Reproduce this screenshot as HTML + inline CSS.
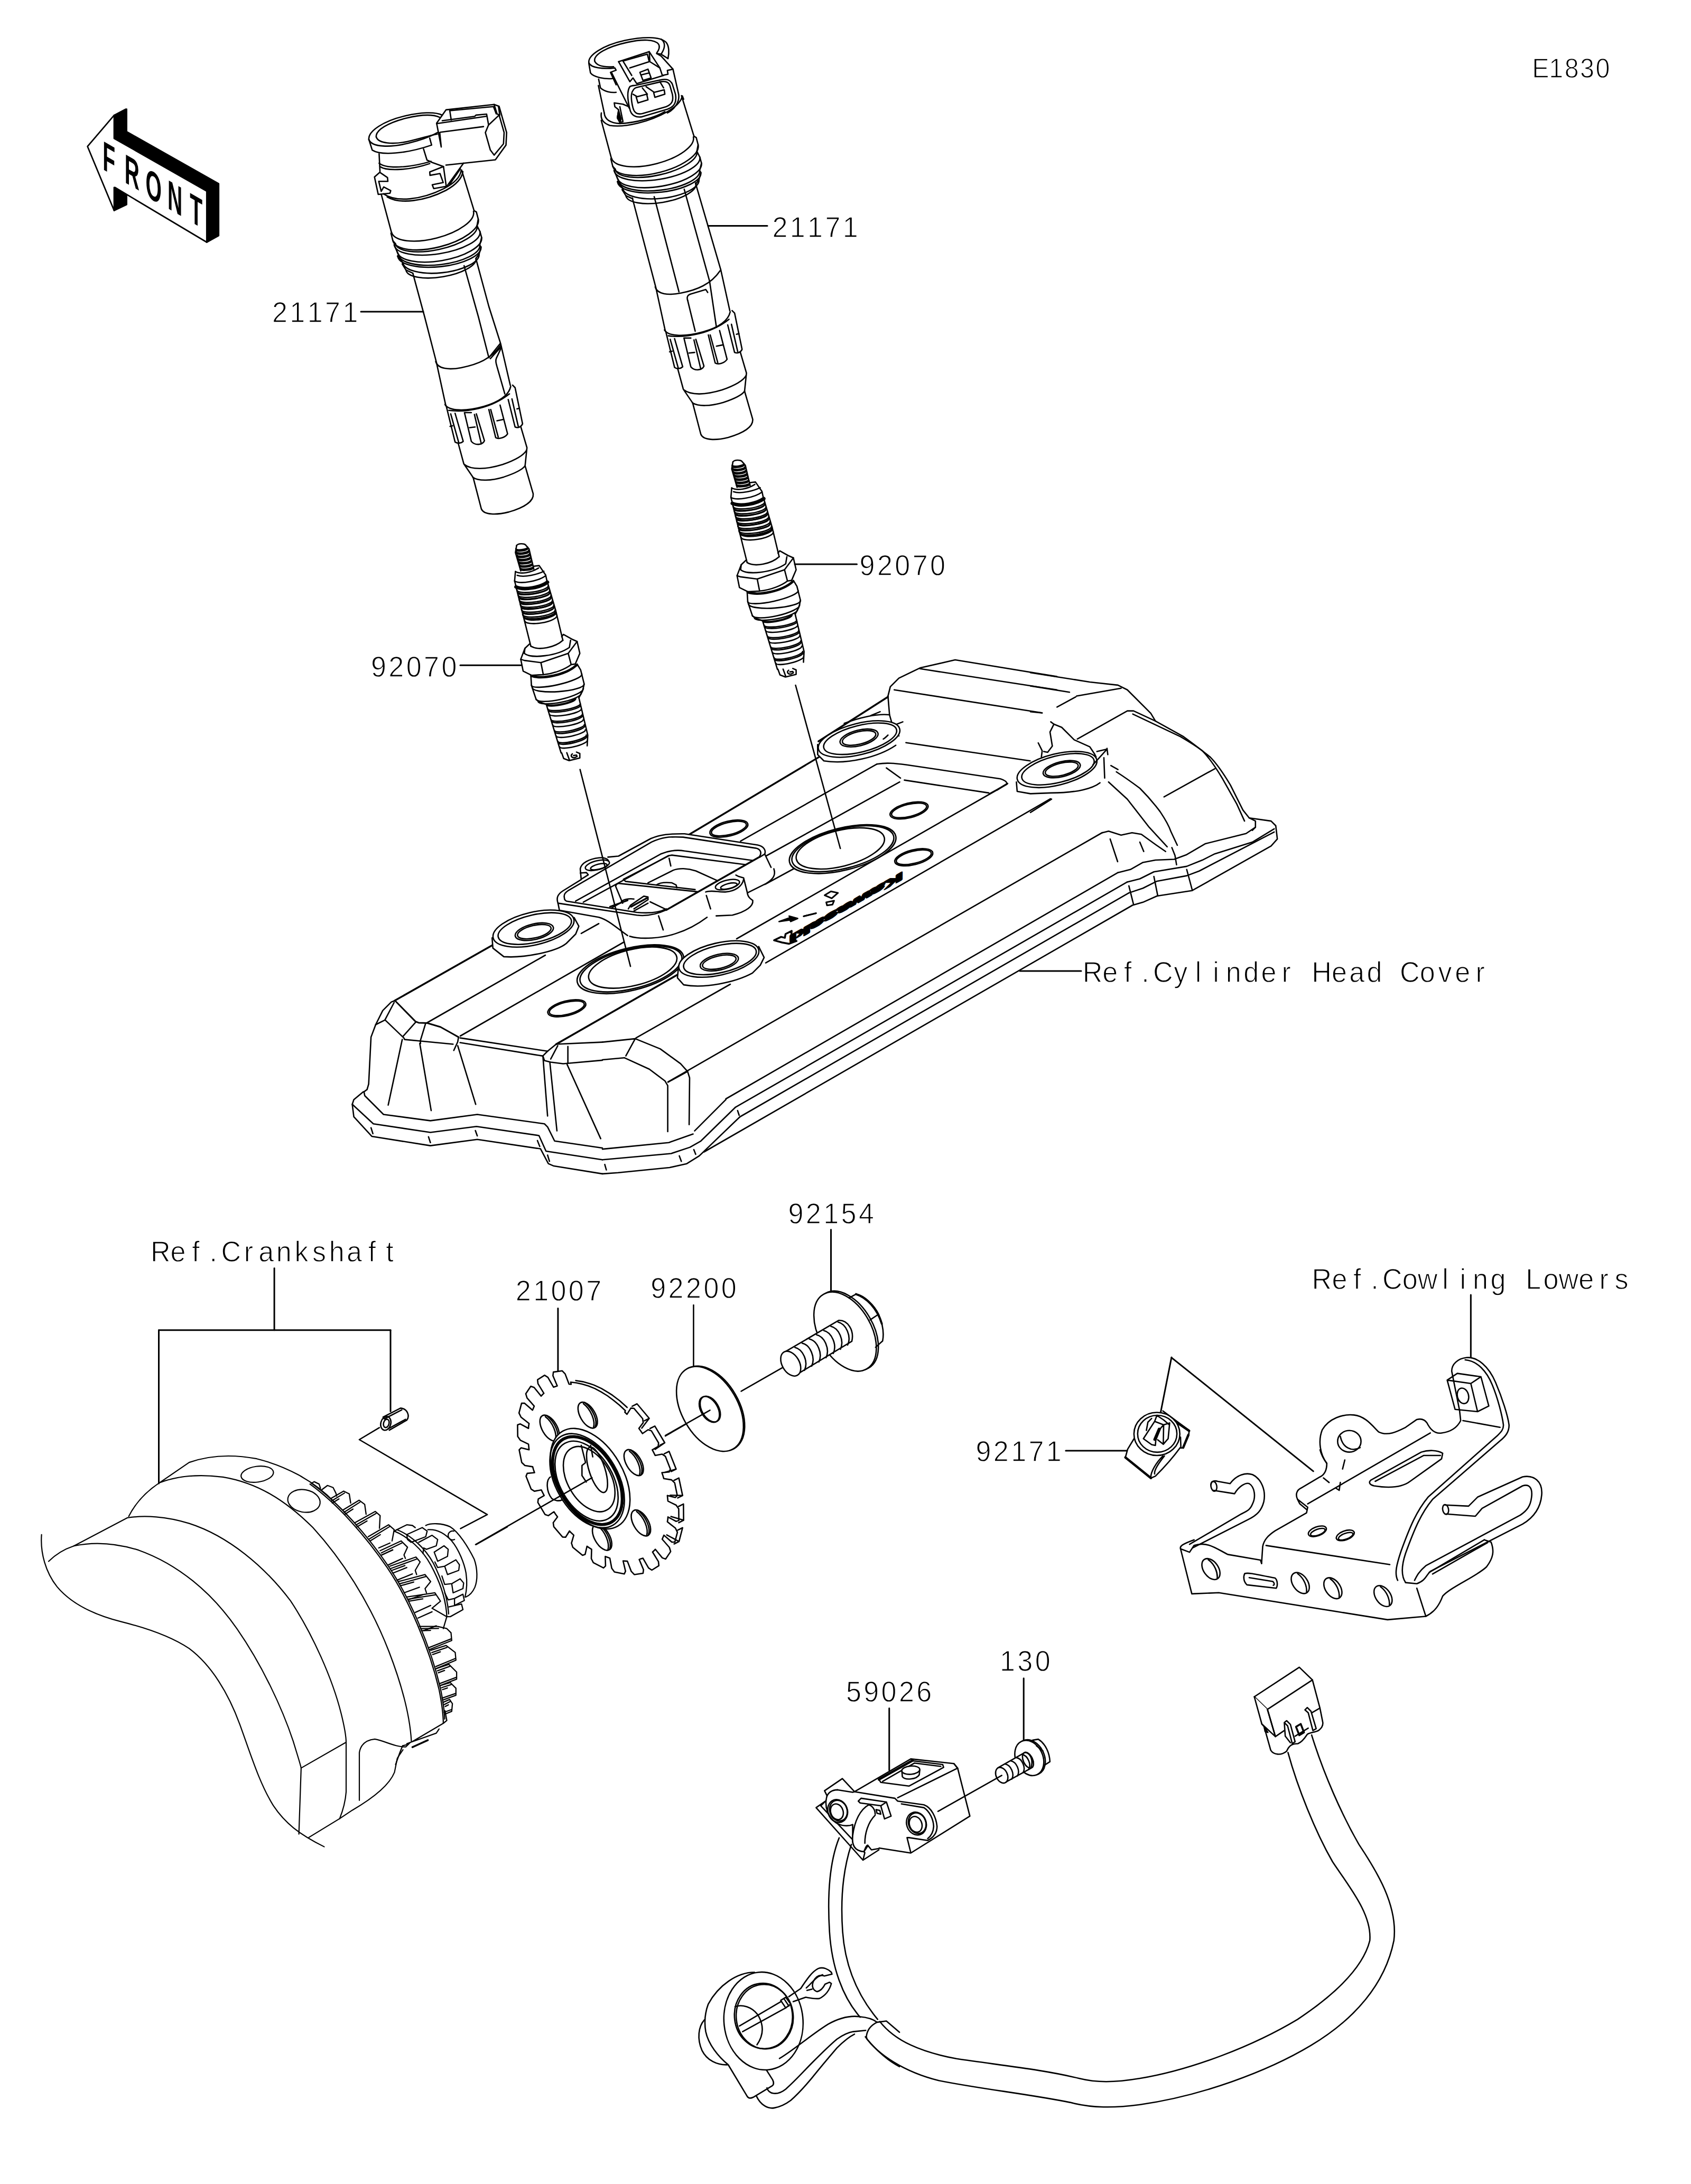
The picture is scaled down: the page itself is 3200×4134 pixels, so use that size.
<!DOCTYPE html>
<html><head><meta charset="utf-8"><title>E1830</title>
<style>
html,body{margin:0;padding:0;background:#fff}
svg{display:block}
text{font-family:"Liberation Sans",sans-serif;fill:#000;stroke:#fff;stroke-width:1.3;paint-order:fill stroke}
</style></head><body>
<svg width="3200" height="4134" viewBox="0 0 3200 4134" fill="none" stroke="#000" stroke-width="2.6" stroke-linecap="round" stroke-linejoin="round">
<rect x="0" y="0" width="3200" height="4134" fill="#fff" stroke="none"/>
<g transform="translate(150,180) scale(0.17740)" stroke-width="15.22" ><path d="M372,215 L495,150 L505,150 L505,390 L1487,945 L1487,1500 L1360,1570 L1360,1025 L372,462 Z" fill="#000"/><path d="M372,985 L505,1060 L505,1168 L372,1232 Z" fill="#000"/><path d="M88,548 L372,215 L372,462 L1360,1025 L1360,1570 L380,985 L372,985 L372,1232 Z" fill="#fff"/><text transform="matrix(1,0.575,0,1,0,0) scale(0.5,1)" x="500 966 1416 1884 2360" y="647 652 670 665 668" font-size="440" font-weight="bold" style="stroke:none">FRONT</text></g>
<g transform="translate(650,180) scale(0.23655)" stroke-width="10.99" ><path d="M303,797 L385,1103"/><path d="M945,600 L1045,925"/><path d="M385,1100A338.4,135.3 -14.5 0 0 1040,930"/><path d="M380,1105 L395,1165 L415,1188 L405,1198 L430,1255 L442,1278 L432,1288 L475,1340 L470,1352 L500,1400 L555,1425"/><path d="M1045,925 L1063,935 L1078,992 L1068,1045 L1092,1092 L1105,1140 L1090,1200 L1100,1215 L1085,1272 L1060,1305"/><path d="M395,1165A352.3,140.9 -14.2 0 0 1078,992"/><path d="M415,1188A334.2,120.3 -12.4 0 0 1068,1045"/><path d="M407,1200A346.7,124.8 -9.0 0 0 1092,1092"/><path d="M430,1255A342.4,130.1 -9.7 0 0 1105,1140"/><path d="M442,1278A326.3,117.5 -6.9 0 0 1090,1200"/><path d="M434,1290A335.1,120.6 -6.4 0 0 1100,1215"/><path d="M475,1340A306.9,116.6 -6.4 0 0 1085,1272"/><path d="M500,1400A284.0,102.2 -9.6 0 0 1060,1305"/><path d="M320,790 C420,860 620,840 800,750 C890,705 935,655 942,600"/><path d="M350,815 C450,875 650,850 820,762 C905,715 948,665 955,612"/><path d="M203,355 C195,290 320,205 500,165 C610,140 730,130 790,160"/><path d="M203,355 C225,420 380,420 520,385 C620,360 700,330 752,300"/><path d="M262,335 C255,280 360,220 500,185 C610,158 710,150 770,178"/><path d="M262,335 C280,390 400,395 510,372 C610,350 700,320 750,312"/><path d="M203,355 L230,440 C300,485 500,470 705,400 L690,345"/><path d="M285,470 L292,612"/><path d="M640,430 L668,520 L712,540 L800,572"/><path d="M285,545 C340,590 520,585 700,530"/><path d="M292,572 C350,612 540,600 690,548"/><path d="M290,618 L248,655 L278,795 L372,785 L378,765 L322,735 L302,770 L282,690 L355,690 L352,660 Z"/><path d="M800,572 L690,615 L692,642 L772,628 L798,700 L710,718 L722,748 L822,730 Z"/><path d="M960,545 L830,725 M935,590 L850,715"/><path d="M745,225 L820,118 L1205,75 L1245,90 L1305,300 L1300,400 L1215,518 L820,560"/><path d="M745,225 L782,415 M770,300 L782,415"/><path d="M745,228 L1140,170 M790,205 L1050,170 L1060,160 L1145,152 L1160,235"/><path d="M850,122 L862,200 M850,125 L1200,92 L1222,150"/><path d="M775,297 L1120,252"/><path d="M1160,240 L1245,160 L1285,300 L1280,390 L1205,480 L1175,440 L1135,300 Z"/><path d="M1205,75 L1228,150 L1245,160 M1240,90 L1250,160"/></g>
<g transform="translate(750,580) scale(0.23655)" stroke-width="10.99" ><path d="M132,-266 L227,85 L320,445 L395,790"/><path d="M542,-326 L657,85 L740,410"/><path d="M637,-381 L740,0 L835,300 L912,632"/><path d="M740,410 L830,298 M752,418 L840,322"/><path d="M835,340 L800,415 C790,440 800,460 805,480 L868,700"/><path d="M315,440 C330,500 420,510 520,490 C650,465 760,420 835,310"/><path d="M390,785 C420,840 560,840 700,800 C820,765 900,710 915,640"/><path d="M420,832 C560,850 760,815 905,700"/><path d="M390,785 L400,800 L470,1085 C490,1100 520,1095 535,1080 L470,855 M435,860 L500,1092"/><path d="M600,850 L545,850 L600,1080 C630,1115 690,1110 705,1075 L640,860 M625,865 L680,1100"/><path d="M740,825 L795,1050 C820,1065 870,1050 890,1020 L830,790 M755,825 L815,1045"/><path d="M895,745 L950,965 C970,975 1000,965 1010,940 L950,650 L930,630 M925,740 L975,958"/><path d="M585,970 L630,965 M805,915 L855,905 M430,960 L450,955 M965,820 L985,815"/><path d="M495,1095 L540,1260 L615,1370 L680,1620 C700,1670 800,1670 900,1645 C1020,1610 1100,1560 1095,1500 L1030,1275 L1045,1130 L995,960"/><path d="M545,1265 C600,1310 720,1305 850,1265 C950,1230 1020,1190 1042,1150"/><path d="M612,1368 C660,1400 760,1395 860,1365 C950,1335 1010,1305 1030,1275"/></g>
<g transform="translate(1050,60) scale(0.23655)" stroke-width="10.99" ><g transform="translate(68,-88)"><path d="M303,797 L385,1103"/><path d="M945,600 L1045,925"/><path d="M385,1100A338.4,135.3 -14.5 0 0 1040,930"/><path d="M380,1105 L395,1165 L415,1188 L405,1198 L430,1255 L442,1278 L432,1288 L475,1340 L470,1352 L500,1400 L555,1425"/><path d="M1045,925 L1063,935 L1078,992 L1068,1045 L1092,1092 L1105,1140 L1090,1200 L1100,1215 L1085,1272 L1060,1305"/><path d="M395,1165A352.3,140.9 -14.2 0 0 1078,992"/><path d="M415,1188A334.2,120.3 -12.4 0 0 1068,1045"/><path d="M407,1200A346.7,124.8 -9.0 0 0 1092,1092"/><path d="M430,1255A342.4,130.1 -9.7 0 0 1105,1140"/><path d="M442,1278A326.3,117.5 -6.9 0 0 1090,1200"/><path d="M434,1290A335.1,120.6 -6.4 0 0 1100,1215"/><path d="M475,1340A306.9,116.6 -6.4 0 0 1085,1272"/><path d="M500,1400A284.0,102.2 -9.6 0 0 1060,1305"/></g><path d="M272,250 C262,190 380,110 560,70 C700,40 840,35 890,85 C915,115 915,170 905,215"/><path d="M272,250 C290,290 380,300 480,290 L490,308 L445,325 L490,425"/><path d="M318,235 C310,180 420,120 580,85 C700,58 800,60 830,100 C845,125 830,150 815,170"/><path d="M318,235 C335,275 400,285 470,280"/><path d="M272,255 L285,330 C310,365 400,380 460,375"/><path d="M815,175 L850,180 L905,215 M850,60 C880,80 890,120 850,180"/><path d="M350,380 L365,450 C400,480 450,490 490,485"/><path d="M348,430 L395,650"/><path d="M372,650 C365,690 380,730 440,750 C560,770 760,720 900,640 C970,600 1010,560 1020,515"/><path d="M395,650 C400,700 440,730 520,735 C640,730 800,690 880,640"/><path d="M510,240 L755,160 L840,290 L860,350 L905,340 L900,310 L945,300 L850,195 L815,175"/><path d="M510,240 L600,400 L625,370 L655,415 L870,350"/><path d="M545,235 L740,180 L755,240 L600,290 M545,235 L615,350 M755,160 L760,240 L840,290"/><path d="M680,325 L745,300 L770,370 L705,390 Z M695,345 L755,330"/><path d="M600,440 C580,470 575,520 600,620 C610,670 650,690 700,680 L900,620 C960,600 975,560 965,500 L940,420 C925,385 890,375 850,385 L640,430 C620,432 610,432 600,440 Z"/><path d="M625,470 C610,490 605,530 625,610 C635,650 660,665 700,655 L890,600 C940,580 950,550 940,500 L920,430 C910,400 880,395 850,400 L660,445 C640,450 635,455 625,470 Z"/><path d="M625,500 L660,520 L735,500 L745,545 L665,570 L650,520 M700,450 L740,500"/><path d="M730,440 L795,485 L875,465 L880,500 L800,525 L790,485 M840,400 L870,450"/><path d="M945,300 L990,500 C1000,560 960,620 900,650 M1020,515 L1030,540"/><path d="M475,570 L545,580 L590,600 M475,570 L480,600 L510,625 L500,690 L520,725 L545,720 L520,600"/><path d="M510,630 L500,690 L520,725 L530,700 Z" fill="#000"/><path d="M455,330 L595,612"/></g>
<g transform="translate(1150,440) scale(0.23655)" stroke-width="10.99" ><g transform="translate(65,-5)"><path d="M132,-271 L320,445 L395,790"/><path d="M307,-281 L505,480"/><path d="M547,-341 L750,395 L805,765"/><path d="M637,-391 L840,305 L912,632"/><path d="M575,550 C565,520 575,505 600,498 L720,462 L735,485"/><path d="M575,550 L635,795"/><path d="M315,440 C330,500 420,510 520,490 C650,465 760,420 835,310"/><path d="M390,785 C420,840 560,840 700,800 C820,765 900,710 915,640"/><path d="M420,832 C560,850 760,815 905,700"/><path d="M390,785 L400,800 L470,1085 C490,1100 520,1095 535,1080 L470,855 M435,860 L500,1092"/><path d="M600,850 L545,850 L600,1080 C630,1115 690,1110 705,1075 L640,860 M625,865 L680,1100"/><path d="M740,825 L795,1050 C820,1065 870,1050 890,1020 L830,790 M755,825 L815,1045"/><path d="M895,745 L950,965 C970,975 1000,965 1010,940 L950,650 L930,630 M925,740 L975,958"/><path d="M585,970 L630,965 M805,915 L855,905 M430,960 L450,955 M965,820 L985,815"/><path d="M495,1095 L540,1260 L615,1370 L680,1620 C700,1670 800,1670 900,1645 C1020,1610 1100,1560 1095,1500 L1030,1275 L1045,1130 L995,960"/><path d="M545,1265 C600,1310 720,1305 850,1265 C950,1230 1020,1190 1042,1150"/><path d="M612,1368 C660,1400 760,1395 860,1365 C950,1335 1010,1305 1030,1275"/></g></g>
<g transform="translate(2200,2540) scale(0.42579)" stroke-width="6.11" ><path d="M80,920 L130,1120 L250,1115 L1000,1235 L1170,1220 C1210,1200 1230,1170 1245,1130 C1280,1090 1400,1040 1440,1000 C1470,960 1475,930 1460,890 L1430,880"/><path d="M80,920 C75,908 90,898 140,880 M120,935 L140,905 C200,885 240,920 290,945 L435,970 L440,985 M80,920 L120,935"/><path d="M460,905 L1010,990 M1130,1095 L1170,1220"/><ellipse cx="215" cy="1010" rx="52" ry="33" transform="rotate(55 215 1010)"/><path d="M203,968 C233,990 245,1025 243,1050"/><ellipse cx="612" cy="1072" rx="52" ry="33" transform="rotate(55 612 1072)"/><path d="M600,1030 C630,1052 642,1087 640,1112"/><ellipse cx="757" cy="1095" rx="52" ry="33" transform="rotate(55 757 1095)"/><path d="M745,1053 C775,1075 787,1110 785,1135"/><ellipse cx="980" cy="1130" rx="52" ry="33" transform="rotate(55 980 1130)"/><path d="M968,1088 C998,1110 1010,1145 1008,1170"/><path d="M365,1030 C380,1025 400,1030 500,1050 C512,1060 512,1085 505,1095 L375,1080 C360,1065 358,1045 365,1030 Z M385,1048 L490,1065 C498,1072 498,1080 492,1082"/><path d="M440,985 L445,910 C450,880 470,860 500,840 L640,760 L645,735 L600,700 C590,680 595,660 615,650 L700,600 C720,590 730,570 730,540 C700,500 690,440 710,390 C740,340 800,320 850,325 C900,330 930,370 960,400 C1000,420 1040,400 1080,380 L1130,345 C1150,340 1165,345 1175,360 C1190,390 1210,410 1240,405 C1280,400 1310,380 1325,350 L1320,305"/><path d="M600,700 L610,720 L640,745 M700,480 C705,500 715,520 730,540"/><path d="M1320,305 L1285,130 C1285,100 1310,75 1350,70 C1400,65 1450,110 1480,180 C1510,250 1535,330 1540,370 C1540,400 1525,420 1500,440 L1200,700 C1150,760 1120,830 1080,940 C1060,1000 1060,1040 1080,1070"/><path d="M1345,80 C1400,85 1440,130 1465,190 C1490,250 1510,330 1515,370 C1515,390 1505,400 1490,415 L1180,690 C1130,750 1100,820 1060,930 C1040,990 1030,1030 1045,1060"/><path d="M1335,350 L1500,380"/><path d="M1265,170 L1310,140 L1415,155 L1450,285 L1400,310 L1300,300 Z M1265,170 L1370,185 L1400,310 M1370,185 L1415,155"/><ellipse cx="1335" cy="240" rx="25" ry="35" transform="rotate(-15 1335 240)"/><ellipse cx="830" cy="442" rx="52" ry="48" transform="rotate(0 830 442)"/><path d="M790,420 C800,470 840,490 878,470"/><path d="M925,615 L1150,490 C1180,480 1220,480 1245,495 L1240,520 L1100,620 C1060,650 1000,650 940,640 C920,635 915,625 925,615 Z M945,620 L1160,505 L1235,505"/><path d="M645,720 L1190,405"/><path d="M810,525 L800,565 M715,605 L740,625 M770,650 L785,660 L790,625"/><ellipse cx="688" cy="842" rx="42" ry="20" transform="rotate(-20 688 842)"/><ellipse cx="690" cy="846" rx="34" ry="13" transform="rotate(-20 690 846)"/><ellipse cx="812" cy="860" rx="42" ry="20" transform="rotate(-20 812 860)"/><ellipse cx="814" cy="864" rx="34" ry="13" transform="rotate(-20 814 864)"/><path d="M215,635 C215,620 230,615 245,620 L300,630 C330,590 370,580 400,590 C440,610 460,660 450,710 C440,750 420,770 380,790 L135,915"/><path d="M225,660 L320,675 C340,640 370,625 385,630 C410,645 415,690 400,720 C390,745 380,750 350,765 L120,900"/><ellipse cx="228" cy="642" rx="13" ry="22" transform="rotate(-10 228 642)"/><path d="M1255,725 L1360,730 L1400,690 L1600,600 C1650,590 1690,620 1685,680 C1680,740 1650,780 1600,810 L1190,1020 C1170,1040 1170,1060 1130,1075 L1080,1070"/><path d="M1260,765 L1390,775 L1420,740 L1600,640 C1630,630 1645,650 1640,690 C1635,730 1620,750 1590,770 L1170,995 C1140,1020 1130,1040 1120,1060"/><ellipse cx="1258" cy="745" rx="13" ry="22" transform="rotate(-10 1258 745)"/><path d="M1430,880 L1185,1025 M1445,892 L1200,1032"/><path d="M40,70 L670,575 M1370,-209 L1370,68" stroke-width="7.0458"/></g>
<g transform="translate(2080,2560) scale(0.14192)" stroke-width="18.32" ><path d="M465,1150 L380,1290 L350,1400 L690,1675 L750,1650 C800,1600 950,1450 1080,1270" fill="#fff"/><path d="M350,1400 L690,1675" stroke-width="31.707"/><path d="M690,1675 C680,1600 760,1470 850,1380 M740,1620 C730,1570 790,1480 870,1380"/><path d="M850,780 L1200,1040 L1195,1100 L1120,1270 L1090,1275 L1085,1130"/><path d="M1030,930 L1200,1045 M1120,1270 L1190,1100" stroke-width="31.707"/><ellipse cx="770" cy="1087" rx="306" ry="287" transform="rotate(0 770 1087)" fill="#fff"/><ellipse cx="775" cy="1085" rx="262" ry="246" transform="rotate(0 775 1085)"/><path d="M740,920 L590,1150 L700,1230 L750,1240 L755,1170 L820,1010 L860,965 Z M860,965 L855,1225 L780,1165 M855,1225 L920,1150 L940,940 L860,965 M700,880 L650,930 L630,1040 M770,840 L740,920 M770,840 L860,900 L930,960"/><path d="M800,1020 L740,1160" stroke-width="35.230000000000004"/><path d="M-445,1310 L370,1310 M820,800 L965,65" stroke-width="21.138"/></g>
<path d="M747,1894 L932,1789" stroke-width="3.4"/><path d="M808,1936 L1032,1808"/><path d="M871,1961 L1181,1783"/><path d="M1052.5,1976.5 L1282,1845" stroke-width="3.6"/><path d="M1203.6,1964.6 L1382,1863"/><path d="M1449,1822.7 L1988,1512"/><path d="M1264,2048 L2086,1576"/><path d="M1373.6,2080 L2115.6,1651.7"/><path d="M1391.3,2096.2 L2133.3,1669.4"/><path d="M1400.2,2114 L2136.3,1690.1"/><path d="M1332.2,2180.5 L2142.2,1714"/><path d="M1394,1777 L1887,1495"/><path d="M1301.9,1581 L1553.8,1430.6" stroke-width="3.4"/><path d="M1401.4,1592.1 L1659.7,1446.2"/><path d="M1450,1620 L1702.5,1480.2"/><path d="M1416.2,1691.1 L1512,1639"/><path d="M1548.8,1403.3 L1680.4,1319" stroke-width="3.4"/><ellipse cx="1072.6" cy="1908.5" rx="37" ry="14" transform="rotate(-14 1072.6 1908.5)"/><ellipse cx="1072.6" cy="1908.5" rx="34" ry="11.5" transform="rotate(-14 1072.6 1908.5)"/><ellipse cx="1379.3" cy="1568.4" rx="37" ry="14" transform="rotate(-14 1379.3 1568.4)"/><ellipse cx="1379.3" cy="1568.4" rx="34" ry="11.5" transform="rotate(-14 1379.3 1568.4)"/><ellipse cx="1720.3" cy="1534" rx="37" ry="14" transform="rotate(-14 1720.3 1534)"/><ellipse cx="1720.3" cy="1534" rx="34" ry="11.5" transform="rotate(-14 1720.3 1534)"/><ellipse cx="1729.2" cy="1622.7" rx="37" ry="14" transform="rotate(-14 1729.2 1622.7)"/><ellipse cx="1729.2" cy="1622.7" rx="34" ry="11.5" transform="rotate(-14 1729.2 1622.7)"/><ellipse cx="1193" cy="1834.6" rx="103.5" ry="40" transform="rotate(-14 1193 1834.6)" fill="#fff"/><ellipse cx="1194" cy="1834" rx="99" ry="37.5" transform="rotate(-14 1194 1834)"/><ellipse cx="1197.4" cy="1831.6" rx="85.7" ry="34" transform="rotate(-14 1197.4 1831.6)"/><ellipse cx="1594.6" cy="1607.3" rx="103.5" ry="40" transform="rotate(-14 1594.6 1607.3)" fill="#fff"/><ellipse cx="1595" cy="1606.5" rx="99" ry="37.5" transform="rotate(-14 1595 1606.5)"/><ellipse cx="1590.2" cy="1605.9" rx="85.7" ry="34" transform="rotate(-14 1590.2 1605.9)"/>
<g transform="translate(640,1700) scale(0.29568)" stroke-width="8.79" ><path d="M185,1225 L165,1240 L170,1265 L290,1385 L590,1425 L890,1385 L1320,1445 L1340,1465 L1385,1555 L1691,1600"/><path d="M160,1240 L100,1290 L90,1320 L225,1445 L590,1500 L885,1462 L1285,1520 L1330,1620 L1691,1675"/><path d="M90,1320 L100,1400 L215,1525 L590,1585 L890,1545 L1295,1605 L1345,1700 L1380,1715 L1691,1765"/><path d="M210,1470 L222,1508 M578,1528 L590,1565 M878,1488 L890,1522 M1275,1552 L1290,1590 M1340,1645 L1352,1685"/><path d="M185,1225 L195,1190 L210,890 L240,810 L285,720 L340,665 L365,655"/><path d="M358,668 L300,778"/><path d="M240,810 L300,780 L420,895 L425,905 L525,915 L735,935"/><path d="M365,658 L495,790 L515,798 L570,800 L655,825 L735,870 L770,890" stroke-width="10.146"/><path d="M495,795 L415,885 M560,800 L525,915 L527,930 M770,890 L765,920 L740,975"/><path d="M780,895 L1340,980 M780,925 L1305,1010"/><path d="M410,905 L320,1325 M522,930 L595,1360 M765,945 L880,1320"/><path d="M1340,980 L1395,935 L1691,922"/><path d="M1340,980 L1310,1010 L1320,1040 L1360,1050 L1440,1060 L1691,1038"/><path d="M1405,945 L1360,1030 M1470,950 L1470,1055"/><path d="M1310,1010 L1340,1395 M1355,1055 L1400,1490 M1465,1065 L1680,1540"/><path d="M985,255 L990,320 L1060,375 C1200,385 1400,340 1460,290 L1520,230 L1540,180 L1510,125" fill="#fff"/><ellipse cx="1250" cy="195" rx="265" ry="105" transform="rotate(-13 1250 195)" fill="#fff"/><ellipse cx="1258" cy="195" rx="240" ry="88" transform="rotate(-13 1258 195)"/><ellipse cx="1255" cy="215" rx="125" ry="50" transform="rotate(-13 1255 215)"/><ellipse cx="1255" cy="215" rx="110" ry="40" transform="rotate(-13 1255 215)"/></g>
<g transform="translate(1140,1700) scale(0.29568)" stroke-width="8.79" ><path d="M0,1607 L425,1565 L580,1510 M590,1490 L790,1290"/><path d="M0,1675 L440,1635 L560,1595 L630,1555 L850,1340"/><path d="M0,1765 L100,1758 L430,1725 L540,1700 L620,1650 L880,1400"/><path d="M15,1705 L25,1740 M492,1650 L505,1685 M585,1610 L597,1640 M865,1360 L875,1390"/><path d="M0,922 L210,900 L150,1010 M0,1035 L140,1022"/><path d="M210,900 L370,965 L500,1060 L545,1110 L558,1150 L555,1450"/><path d="M140,1022 L300,1095 L400,1170 L418,1200 L418,1495"/><path d="M420,1178 L545,1110"/><path d="M485,460 L480,510 L520,555 C650,580 850,540 960,480 L1010,430 L1035,380 L1000,310" fill="#fff"/><ellipse cx="745" cy="390" rx="262" ry="103" transform="rotate(-13 745 390)" fill="#fff"/><ellipse cx="752" cy="390" rx="238" ry="87" transform="rotate(-13 752 390)"/><ellipse cx="748" cy="410" rx="125" ry="50" transform="rotate(-13 748 410)"/><ellipse cx="748" cy="410" rx="110" ry="40" transform="rotate(-13 748 410)"/></g>
<g transform="translate(1040,1550) scale(0.26610)" stroke-width="9.77" ><path d="M60,600 L70,650 L350,700 C420,720 470,770 555,830 L570,835 C650,860 800,850 900,815 C980,790 1060,745 1120,700 L1185,690 L1300,685 C1400,660 1450,620 1445,580 L1540,460 C1590,430 1610,400 1595,355 L1530,250 L1480,186 L960,106 C850,105 790,112 720,140 L490,265 L415,272 C390,270 280,285 225,315 L218,355 L225,432 L95,512 C60,535 45,560 60,600 Z" fill="#fff" stroke="none"/><path d="M60,600 L70,650 L350,700 C420,720 470,770 555,830"/><path d="M570,835 C650,860 800,850 900,815 C980,790 1060,745 1120,700"/><path d="M775,690 L808,790 M1115,545 L1145,640 M850,280 L862,335"/><path d="M1530,250 L1575,345 M1595,355 C1610,400 1590,430 1540,460 L1410,525"/><path d="M1325,400 L1345,410 L1380,420 L1385,440 L1405,520 C1410,560 1430,570 1445,580 C1450,620 1400,660 1300,685 L1185,690"/><path d="M1110,520 C1150,505 1200,522 1250,520 C1320,515 1370,480 1380,430"/><ellipse cx="1265" cy="468" rx="88" ry="32" transform="rotate(-14 1265 468)"/><ellipse cx="1275" cy="478" rx="60" ry="18" transform="rotate(-14 1275 478)"/><path d="M60,600 C45,560 60,535 95,512 L225,432"/><path d="M225,432 L218,355 C225,315 280,285 350,277 C390,273 415,285 420,300 M218,385 L262,382 L275,398 L232,425"/><ellipse cx="340" cy="330" rx="88" ry="32" transform="rotate(-14 340 330)"/><ellipse cx="350" cy="340" rx="60" ry="18" transform="rotate(-14 350 340)"/><path d="M415,272 L490,265 L720,140 C790,112 850,105 960,106 L1480,186 C1525,195 1540,225 1530,250 L1495,272"/><path d="M1495,270 L830,648" stroke-width="12.7772"/><path d="M60,600 L620,685 C700,695 770,675 830,648"/><path d="M105,560 C100,540 110,525 130,512 L725,165 C800,130 850,125 950,130 L1465,208 C1500,215 1510,240 1495,265 M830,640 C780,665 720,675 620,665 L120,585 C108,580 105,570 105,560"/><path d="M185,585 L790,250 C850,225 900,218 960,228 L1445,296"/><path d="M240,592 L845,262 L870,258 L1390,325"/><path d="M470,478 C475,462 485,458 500,460 L1050,518 M525,430 L540,445 L1035,503 M525,430 L850,262"/><path d="M700,455 L880,365 C920,350 980,350 1040,370 L1195,440"/><path d="M760,470 C780,455 820,450 870,455 L900,470 L905,490"/><path d="M470,480 L520,600"/><path d="M430,625 L555,580" stroke-width="12.0256"/><path d="M440,635 L500,600 M510,590 C520,575 560,565 600,570"/><path d="M560,640 L575,615 L670,550 L700,555 L700,575 L600,640"/><path d="M580,625 L690,565" stroke-width="12.7772"/><path d="M600,655 L700,600 M715,590 L820,640"/><path d="M225,815 L350,745"/></g>
<g transform="translate(880,1010) scale(0.22442)" stroke-width="11.59" ><path d="M970,1990 L1395,3650"/></g>
<g transform="translate(1500,1220) scale(0.29568)" stroke-width="8.79" ><path d="M610,330 L625,270 L680,215 L815,150 L1040,98 L1691,205"/><path d="M815,155 L1691,290 M650,290 L1595,437"/><path d="M610,330 L620,450 L640,520 L610,580"/><path d="M725,628 L1520,745"/><path d="M540,765 C600,755 650,760 730,770 L1330,860 C1360,870 1375,880 1370,895 L1260,955"/><path d="M600,790 L690,855 M715,868 L1255,950"/><path d="M1310,930 L1375,890" stroke-width="10.822400000000002"/><path d="M640,520 L705,495 M660,545 L680,585"/><path d="M500,455 L560,430 M330,505 C420,470 540,440 620,450"/><path d="M160,640 L160,705 L200,745 C350,770 550,720 660,645" fill="#fff"/><ellipse cx="425" cy="605" rx="268" ry="100" transform="rotate(-14 425 605)" fill="#fff"/><ellipse cx="432" cy="603" rx="240" ry="85" transform="rotate(-14 432 603)"/><ellipse cx="425" cy="598" rx="125" ry="50" transform="rotate(-14 425 598)"/><ellipse cx="425" cy="598" rx="110" ry="40" transform="rotate(-14 425 598)"/><path d="M610,580 C600,590 590,600 580,605"/></g>
<g transform="translate(1950,1220) scale(0.29568)" stroke-width="8.79" ><path d="M0,180 L380,240 L560,260 L620,290 L770,440 L800,490"/><path d="M0,265 L250,305 M295,330 L580,280 M170,400 L290,335 M0,430 L75,438"/><path d="M300,605 L620,425 L660,425 L800,490 L980,590 C1050,640 1100,680 1150,720 C1200,770 1250,850 1280,900 L1360,1060 L1400,1110 L1440,1130 L1440,1170 L1420,1190"/><path d="M655,445 L960,590 C1020,625 1060,650 1100,680 C1150,730 1200,810 1230,860 L1320,1020 L1370,1130"/><path d="M1400,1110 L1540,1130 L1570,1160 L1580,1245 L1540,1290 L1035,1575"/><path d="M855,975 L1180,795"/><path d="M-90,880 L-85,940 L0,955 L130,950 C300,950 400,920 445,885" fill="#fff"/><ellipse cx="170" cy="800" rx="262" ry="100" transform="rotate(-14 170 800)" fill="#fff"/><ellipse cx="176" cy="798" rx="238" ry="85" transform="rotate(-14 176 798)"/><ellipse cx="200" cy="798" rx="122" ry="48" transform="rotate(-14 200 798)"/><ellipse cx="200" cy="798" rx="108" ry="39" transform="rotate(-14 200 798)"/><path d="M130,495 L150,510 L125,560 L140,650 L110,690 L85,685" fill="#fff"/><path d="M150,510 L200,530 L280,610 L380,655 L410,700 L420,720 M50,630 L75,680 L70,720"/><path d="M425,685 L490,670 L400,770 M490,665 L495,705 M470,725 L475,855"/><path d="M515,775 L560,800 M550,815 C620,860 660,890 700,920 C760,980 800,1030 830,1070 C870,1130 890,1170 900,1200 L940,1285"/><path d="M500,880 L620,990 L760,1170 L875,1295 M905,1300 L925,1350 L935,1410"/><path d="M460,1205 L500,1195 L580,1220 L650,1205 L710,1215 L800,1280 L865,1325"/><path d="M510,1245 L558,1390 M700,1265 L725,1325"/><path d="M0,1075 L135,990"/><path d="M560,1460 L640,1440 L720,1395 L800,1380 L920,1375 L1000,1345 L1120,1275 L1380,1210 L1440,1170"/><path d="M620,1520 L700,1500 L790,1455 L1000,1420 L1100,1380 L1180,1340 L1420,1265 L1560,1180"/><path d="M630,1590 L720,1560 L810,1515 L1000,1480 L1080,1450 L1560,1200"/><path d="M650,1670 L720,1650 L810,1610 L1035,1575"/><path d="M630,1545 L660,1665 M790,1485 L815,1610 M1000,1440 L1035,1570"/></g>
<text transform="translate(1708,1650) rotate(150.4) skewX(-30) scale(1.5,0.5)" font-size="36" font-weight="bold" letter-spacing="0" style="stroke:#000;stroke-width:5;paint-order:stroke fill">Kawasaki</text>
<g transform="translate(1440,1630) scale(0.17740)" stroke-width="14.66" ><path d="M140,845 L215,808 L255,818 L262,778 L328,745 L318,850 L380,852 L300,882 L225,868 Z" stroke-width="19.729499999999998"/></g>
<g transform="translate(1140,1700) scale(0.29568)" stroke-width="8.79" ><path d="M1130,150 L1200,125 L1195,115 L1250,130 L1205,150 L1200,140 Z M1290,115 L1365,98" fill="#000"/></g>
<g transform="translate(1500,1220) scale(0.29568)" stroke-width="8.79" ><path d="M205,1605 L245,1580 L290,1590 L250,1625 Z M215,1650 L265,1640 L255,1665 L220,1670 Z M70,1740 L150,1720" stroke-width="10.146"/></g>
<g transform="translate(60,2700) scale(0.53220)" stroke-width="4.13" ><path d="M345,320 C370,270 410,230 455,200 L560,128 C640,100 720,100 800,115 C900,140 1000,190 1075,268"/><path d="M455,200 C520,175 600,170 680,180 C800,200 900,260 1000,360 C1100,470 1200,620 1270,800 C1320,930 1345,1030 1350,1120"/><path d="M340,325 C400,315 480,320 560,345 C700,390 830,500 920,620 C1000,740 1070,900 1100,1020 C1115,1080 1118,1110 1118,1125 L1118,1300 C1115,1340 1105,1370 1095,1395"/><path d="M150,425 C220,410 300,415 380,440 C520,490 640,590 730,720 C820,850 890,1000 930,1120 C945,1170 955,1200 958,1215 L950,1450"/><path d="M35,385 C30,450 50,520 90,570 C140,630 220,670 320,695 C420,720 500,750 560,790 C640,850 700,950 740,1060 C780,1170 810,1270 860,1350 C900,1410 950,1450 1040,1495"/><path d="M150,425 L340,325 M60,480 C90,450 120,435 150,425"/><path d="M958,1215 L1115,1125 M1095,1395 L985,1462"/><path d="M1165,1330 L1165,1160 C1170,1130 1190,1115 1220,1112 C1260,1120 1290,1140 1330,1140 L1345,1125"/><path d="M1095,1395 L1140,1365 C1200,1330 1270,1280 1290,1230 L1300,1180 L1320,1150"/><ellipse cx="802" cy="170" rx="58" ry="28" transform="rotate(-8 802 170)"/><ellipse cx="968" cy="265" rx="58" ry="40" transform="rotate(10 968 265)"/></g>
<g transform="translate(560,2760) scale(0.26560)" stroke-width="8.66" ><path d="M100,185 C300,330 500,560 650,780 C800,1000 950,1350 1020,1650 C1040,1750 1050,1830 1050,1890"/><path d="M110,178 C310,322 510,552 660,772 C810,992 960,1342 1030,1642 C1050,1742 1058,1800 1060,1860"/><path d="M830,2020 L1050,1890 L1075,1870 L1062,1800 M790,2035 L1000,1960 L1020,1930 M710,2184 L740,2100 L760,2050 L800,2040"/><path d="M830,2060 L940,2010" stroke-width="12.801"/><path d="M110,180 L130,168 L165,185 L175,215"/><path d="M185,225 L225,195 L265,210 L285,250 L290,270"/><path d="M245,290 L340,235 L380,255 L390,320"/><path d="M253,306 L346,249"/><path d="M259,320 L306.5,290.5"/><path d="M335,370 L450,300 L490,330 L500,400"/><path d="M343,386 L456,314"/><path d="M349,400 L406.5,363.0"/><path d="M420,460 L565,380 L600,410 L595,500"/><path d="M428,476 L571,394"/><path d="M434,490 L506.5,448.0"/><path d="M515,560 L660,475 L700,510 L685,590"/><path d="M523,576 L666,489"/><path d="M529,590 L601.5,545.5"/><path d="M600,660 L750,590 L795,635 L770,690 L780,715"/><path d="M608,676 L756,604"/><path d="M614,690 L689.0,653.0"/><path d="M670,770 L855,705 L885,740 L850,800 L860,830"/><path d="M678,786 L861,719"/><path d="M684,800 L776.5,765.5"/><path d="M730,880 L920,830 L960,880 L920,930 L930,960"/><path d="M738,896 L926,844"/><path d="M744,910 L839.0,883.0"/><path d="M790,990 L990,960 L1030,1020 L970,1070 L1075,1130"/><path d="M798,1006 L996,974"/><path d="M804,1020 L904.0,1003.0"/><path d="M880,1200 L1010,1200 L1075,1215 L1105,1245 L1110,1300 L950,1365"/><path d="M888,1216 L1016,1214"/><path d="M894,1230 L959.0,1228.0"/><path d="M946,1351 L1106,1288"/><path d="M960,1370 L1070,1335 L1135,1385 L1140,1440 L1000,1500"/><path d="M968,1386 L1076,1349"/><path d="M974,1400 L1029.0,1380.5"/><path d="M996,1486 L1136,1428"/><path d="M1000,1500 L1090,1470 L1145,1525 L1145,1575 L1030,1620"/><path d="M1008,1516 L1096,1484"/><path d="M1014,1530 L1059.0,1513.0"/><path d="M1026,1606 L1141,1563"/><path d="M1030,1620 L1100,1600 L1140,1640 L1140,1690 L1045,1725"/><path d="M1038,1636 L1106,1614"/><path d="M1044,1650 L1079.0,1638.0"/><path d="M1041,1711 L1136,1678"/><path d="M1050,1740 L1095,1720 L1115,1750 L1110,1805 L1060,1825"/><path d="M1058,1756 L1101,1734"/><path d="M1064,1770 L1086.5,1758.0"/><path d="M1056,1811 L1106,1793"/><path d="M590,640 L670,605"/><path d="M610,690 L690,655"/><path d="M660,760 L760,715"/><path d="M690,820 L790,780"/><path d="M720,870 L830,825"/><path d="M770,960 L880,920"/><path d="M800,1010 L900,975"/><path d="M850,1100 L960,1050"/><path d="M870,1140 L970,1095"/><path d="M910,1230 L1000,1195"/><path d="M700,520 C800,560 900,650 960,760 C1020,870 1070,1000 1075,1130 L1050,1215"/><path d="M720,510 C820,550 920,640 980,750 C1035,860 1080,990 1088,1110"/><path d="M700,520 L790,475 L830,480 L850,495"/><path d="M790,545 L900,495 L935,520 L925,560 L820,600 L795,580 L790,545"/><path d="M875,600 L970,550 L1010,580 L1000,625 L930,650 L910,640 L905,680"/><path d="M985,670 L1055,625 L1085,650 L1080,700 L1010,735 L985,670"/><path d="M990,740 L1010,780 L1060,770 L1140,725 L1165,760 L1160,800 L1080,830 L1060,770"/><path d="M1040,840 L1060,900 L1110,895 L1170,860 L1195,890 L1190,930 L1120,960 L1110,895"/><path d="M1060,960 L1085,1010 L1130,1000 L1190,970 L1200,1015 L1130,1050 L1130,1000"/><path d="M1090,1060 L1180,1040 L1190,1080 L1100,1130 L1075,1130"/><path d="M925,480 C960,462 1040,462 1100,490 C1160,525 1230,640 1270,720 C1295,790 1295,870 1275,920 C1260,955 1235,980 1210,990"/><path d="M940,510 C1000,505 1060,535 1110,590 C1160,650 1200,750 1212,820 C1222,890 1215,950 1205,990"/><path d="M1125,520 A32,32 0 1 0 1130,580"/></g>
<g transform="translate(560,2760) scale(0.26560)" stroke-width="9.79" ><path d="M1285,615 L1506,490"/></g>
<text transform="scale(0.93,1)" x="3117.5 3152.0 3183.5 3215.1 3246.7" y="147" font-size="52.1">E1830</text>
<text transform="scale(0.93,1)" x="553.8 589.6 625.5 661.3 697.2" y="610.5" font-size="56.0">21171</text>
<path d="M683,590 L801,590" stroke-width="3"/>
<text transform="scale(0.93,1)" x="1571.4 1607.3 1643.1 1679.0 1714.8" y="449" font-size="56.0">21171</text>
<path d="M1340,427.5 L1452,427.5" stroke-width="3"/>
<text transform="scale(0.93,1)" x="754.8 790.7 826.6 862.4 898.3" y="1281" font-size="56.0">92070</text>
<path d="M871,1259.3 L987,1259.3" stroke-width="3"/>
<text transform="scale(0.93,1)" x="1749.0 1784.9 1820.8 1856.6 1892.5" y="1089" font-size="56.0">92070</text>
<path d="M1504,1068 L1621.5,1068" stroke-width="3"/>
<text transform="scale(0.93,1)" x="2202.9 2243.4 2287.0 2322.9 2346.3 2388.4 2432.0 2467.9 2494.4 2530.3 2566.1 2608.2 2645.6 2669.1 2709.6 2745.4 2781.3 2824.9 2848.4 2888.9 2926.3 2960.6 3002.7" y="1858.7" font-size="56.0">Ref.Cylinder Head Cover</text>
<path d="M1930,1838 L2046,1838" stroke-width="3"/>
<text transform="scale(0.93,1)" x="306.4 346.9 390.6 426.4 449.9 496.6 526.2 562.1 599.5 635.4 669.7 705.5 749.2 785.1" y="2387.7" font-size="56.0">Ref.Crankshaft</text>
<path d="M519.1,2400.5 L519.1,2517.8" stroke-width="3"/>
<path d="M300.5,2517.8 L739,2517.8" stroke-width="3"/>
<path d="M300.5,2517.8 L300.5,2808" stroke-width="3"/>
<path d="M739,2517.8 L739,2671.5" stroke-width="3"/>
<text transform="scale(0.93,1)" x="1049.2 1085.1 1121.0 1156.8 1192.7" y="2462.3" font-size="56.0">21007</text>
<path d="M1055.9,2476.5 L1055.9,2595" stroke-width="3"/>
<text transform="scale(0.93,1)" x="1324.0 1359.8 1395.7 1431.6 1467.4" y="2456.7" font-size="56.0">92200</text>
<text transform="scale(0.93,1)" x="1603.8 1639.6 1675.5 1711.3 1747.2" y="2315.7" font-size="56.0">92154</text>
<path d="M1572.5,2327.5 L1572.5,2446" stroke-width="3"/>
<path d="M1505.5,1297 L1590.2,1606"/>
<text transform="scale(0.93,1)" x="2669.5 2710.1 2753.7 2789.6 2813.0 2853.5 2884.7 2934.6 2970.4 2996.9 3032.8 3076.4 3104.5 3140.4 3171.6 3212.1 3254.2 3285.4" y="2440.3" font-size="56.0">Ref.Cowling Lowers</text>
<text transform="scale(0.93,1)" x="1985.5 2021.3 2057.2 2093.1 2128.9" y="2766.3" font-size="56.0">92171</text>
<text transform="scale(0.93,1)" x="1721.4 1757.3 1793.1 1829.0 1864.8" y="3221" font-size="56.0">59026</text>
<text transform="scale(0.93,1)" x="2034.4 2070.3 2106.1" y="3162.6" font-size="56.0">130</text>
<g transform="translate(240,2260) scale(0.47304)" stroke-width="5.50" ><path d="M1010,935 L930,983 L1442,1283 L1335,1339"/><path d="M1025,893 L1095,857 C1125,860 1132,890 1120,905 L1050,945" fill="#fff"/><ellipse cx="1036" cy="918" rx="20" ry="28" transform="rotate(15 1036 918)" fill="#fff"/><ellipse cx="1038" cy="918" rx="11" ry="17" transform="rotate(15 1038 918)"/><path d="M1030,900 L1100,864 M1045,940 L1115,902"/></g>
<g transform="translate(880,1010) scale(0.22442)" stroke-width="11.59" ><path d="M435,100 C450,82 495,82 510,95 L540,130 L580,300"/><path d="M435,100 L425,160 L470,315"/><path d="M428.0,128A50.4,14.1 -7.4 0 0 528.0,115"/><path d="M430.0,138A50.4,14.1 -7.4 0 0 530.0,125"/><path d="M434.0,155A51.4,14.4 -7.3 0 0 536.0,142"/><path d="M436.0,165A51.4,14.4 -7.3 0 0 538.0,152"/><path d="M440.0,182A52.4,14.7 -7.1 0 0 544.0,169"/><path d="M442.0,192A52.4,14.7 -7.1 0 0 546.0,179"/><path d="M446.0,209A53.4,15.0 -7.0 0 0 552.0,196"/><path d="M448.0,219A53.4,15.0 -7.0 0 0 554.0,206"/><path d="M452.0,236A54.4,15.2 -6.9 0 0 560.0,223"/><path d="M454.0,246A54.4,15.2 -6.9 0 0 562.0,233"/><path d="M458.0,263A55.4,15.5 -6.7 0 0 568.0,250"/><path d="M460.0,273A55.4,15.5 -6.7 0 0 570.0,260"/><path d="M464.0,290A56.4,15.8 -6.6 0 0 576.0,277"/><path d="M466.0,300A56.4,15.8 -6.6 0 0 578.0,287"/><path d="M425,320 L418,400 L430,445 M580,275 L625,270 L680,350 L692,405"/><path d="M425,320 C470,345 560,330 620,290"/><path d="M440,352 C500,375 620,340 665,318"/><path d="M418,400 C470,430 620,400 680,355"/><path d="M430,450 C500,482 640,452 695,410" stroke-width="30.122560000000004"/><path d="M438.0,478A133.4,34.7 -8.2 0 0 702.0,440"/><path d="M444.0,492A131.4,34.2 -8.3 0 0 704.0,454"/><path d="M450.0,504A126.6,25.3 -9.1 0 0 700.0,464"/><path d="M447.5,519A134.4,34.9 -8.1 0 0 713.5,481"/><path d="M453.5,533A132.4,34.4 -8.3 0 0 715.5,495"/><path d="M459.5,545A127.6,25.5 -9.0 0 0 711.5,505"/><path d="M457.0,560A135.3,35.2 -8.1 0 0 725.0,522"/><path d="M463.0,574A133.4,34.7 -8.2 0 0 727.0,536"/><path d="M469.0,586A128.6,25.7 -8.9 0 0 723.0,546"/><path d="M466.5,601A136.3,35.4 -8.0 0 0 736.5,563"/><path d="M472.5,615A134.4,34.9 -8.1 0 0 738.5,577"/><path d="M478.5,627A129.6,25.9 -8.9 0 0 734.5,587"/><path d="M476.0,642A137.3,35.7 -8.0 0 0 748.0,604"/><path d="M482.0,656A135.3,35.2 -8.1 0 0 750.0,618"/><path d="M488.0,668A130.5,26.1 -8.8 0 0 746.0,628"/><path d="M485.5,683A138.3,36.0 -7.9 0 0 759.5,645"/><path d="M491.5,697A136.3,35.4 -8.0 0 0 761.5,659"/><path d="M497.5,709A131.5,26.3 -8.7 0 0 757.5,669"/><path d="M430,450 L490,690 M695,410 L765,650"/><path d="M490,690 L555,950 M765,650 L825,900"/><path d="M495,705A138.0,41.4 -8.3 0 0 768,665"/><path d="M503,735A137.8,41.4 -9.4 0 0 775,690"/><path d="M555,950 C620,990 760,960 825,900"/><path d="M545,930 L505,968 L470,1060 L490,1160 L560,1195 L660,1190 C760,1180 850,1140 895,1105 L930,1100 L968,1010 L945,910 L900,890 L830,850 L815,870"/><path d="M470,1060 L500,1070 L640,1088 L870,1010 L945,910"/><path d="M640,1088 L660,1190 M870,1010 L895,1105"/><path d="M505,968 L500,1010 C560,1060 780,1030 880,960 L890,900"/><path d="M560,1200 C650,1232 850,1192 940,1110" stroke-width="20.854080000000003"/><path d="M555,1195 L560,1280 L600,1400 L640,1425 L685,1440"/><path d="M945,1100 L975,1150 L1005,1270 L990,1330 L960,1385"/><path d="M560,1280A217.7,43.5 -12.6 0 0 985,1185"/><path d="M568,1300A218.0,48.0 -3.9 0 0 1003,1270"/><path d="M598,1395A205.0,49.2 -12.7 0 0 998,1305"/><path d="M615,1415A185.8,44.6 -10.9 0 0 980,1345"/><path d="M690,1442A122.6,24.5 -11.8 0 0 930,1392" stroke-width="18.536960000000004"/><path d="M685,1440 L810,1850 M960,1385 L1035,1700 L1030,1790"/><path d="M697.0,1478A139.2,30.6 -8.9 0 0 972.0,1435"/><path d="M701.0,1491A138.8,30.5 -9.1 0 0 975.0,1447"/><path d="M711.5,1524A136.4,30.0 -9.5 0 0 980.5,1479"/><path d="M726.0,1570A133.6,29.4 -10.1 0 0 989.0,1523"/><path d="M730.0,1583A133.2,29.3 -10.4 0 0 992.0,1535"/><path d="M740.5,1616A130.8,28.8 -10.8 0 0 997.5,1567"/><path d="M755.0,1662A128.1,28.2 -11.5 0 0 1006.0,1611"/><path d="M759.0,1675A127.7,28.1 -11.7 0 0 1009.0,1623"/><path d="M769.5,1708A125.3,27.6 -12.2 0 0 1014.5,1655"/><path d="M784.0,1754A122.6,27.0 -13.0 0 0 1023.0,1699"/><path d="M788.0,1767A122.2,26.9 -13.2 0 0 1026.0,1711"/><path d="M798.5,1800A119.9,26.4 -13.7 0 0 1031.5,1743"/><path d="M815,1850 L832,1897 L878,1915 L968,1893 L968,1855 L940,1843 M905,1858 C888,1870 895,1893 925,1890 L945,1880 L940,1868 L915,1872 M858,1848 L880,1908"/></g>
<g transform="translate(1290,830) scale(0.22442)" stroke-width="11.59" ><g transform="translate(-3,97)"><path d="M435,100 C450,82 495,82 510,95 L540,130 L580,300"/><path d="M435,100 L425,160 L470,315"/><path d="M428.0,128A50.4,14.1 -7.4 0 0 528.0,115"/><path d="M430.0,138A50.4,14.1 -7.4 0 0 530.0,125"/><path d="M434.0,155A51.4,14.4 -7.3 0 0 536.0,142"/><path d="M436.0,165A51.4,14.4 -7.3 0 0 538.0,152"/><path d="M440.0,182A52.4,14.7 -7.1 0 0 544.0,169"/><path d="M442.0,192A52.4,14.7 -7.1 0 0 546.0,179"/><path d="M446.0,209A53.4,15.0 -7.0 0 0 552.0,196"/><path d="M448.0,219A53.4,15.0 -7.0 0 0 554.0,206"/><path d="M452.0,236A54.4,15.2 -6.9 0 0 560.0,223"/><path d="M454.0,246A54.4,15.2 -6.9 0 0 562.0,233"/><path d="M458.0,263A55.4,15.5 -6.7 0 0 568.0,250"/><path d="M460.0,273A55.4,15.5 -6.7 0 0 570.0,260"/><path d="M464.0,290A56.4,15.8 -6.6 0 0 576.0,277"/><path d="M466.0,300A56.4,15.8 -6.6 0 0 578.0,287"/><path d="M425,320 L418,400 L430,445 M580,275 L625,270 L680,350 L692,405"/><path d="M425,320 C470,345 560,330 620,290"/><path d="M440,352 C500,375 620,340 665,318"/><path d="M418,400 C470,430 620,400 680,355"/><path d="M430,450 C500,482 640,452 695,410" stroke-width="30.122560000000004"/><path d="M438.0,478A133.4,34.7 -8.2 0 0 702.0,440"/><path d="M444.0,492A131.4,34.2 -8.3 0 0 704.0,454"/><path d="M450.0,504A126.6,25.3 -9.1 0 0 700.0,464"/><path d="M447.5,519A134.4,34.9 -8.1 0 0 713.5,481"/><path d="M453.5,533A132.4,34.4 -8.3 0 0 715.5,495"/><path d="M459.5,545A127.6,25.5 -9.0 0 0 711.5,505"/><path d="M457.0,560A135.3,35.2 -8.1 0 0 725.0,522"/><path d="M463.0,574A133.4,34.7 -8.2 0 0 727.0,536"/><path d="M469.0,586A128.6,25.7 -8.9 0 0 723.0,546"/><path d="M466.5,601A136.3,35.4 -8.0 0 0 736.5,563"/><path d="M472.5,615A134.4,34.9 -8.1 0 0 738.5,577"/><path d="M478.5,627A129.6,25.9 -8.9 0 0 734.5,587"/><path d="M476.0,642A137.3,35.7 -8.0 0 0 748.0,604"/><path d="M482.0,656A135.3,35.2 -8.1 0 0 750.0,618"/><path d="M488.0,668A130.5,26.1 -8.8 0 0 746.0,628"/><path d="M485.5,683A138.3,36.0 -7.9 0 0 759.5,645"/><path d="M491.5,697A136.3,35.4 -8.0 0 0 761.5,659"/><path d="M497.5,709A131.5,26.3 -8.7 0 0 757.5,669"/><path d="M430,450 L490,690 M695,410 L765,650"/><path d="M490,690 L555,950 M765,650 L825,900"/><path d="M495,705A138.0,41.4 -8.3 0 0 768,665"/><path d="M503,735A137.8,41.4 -9.4 0 0 775,690"/><path d="M555,950 C620,990 760,960 825,900"/><path d="M545,930 L505,968 L470,1060 L490,1160 L560,1195 L660,1190 C760,1180 850,1140 895,1105 L930,1100 L968,1010 L945,910 L900,890 L830,850 L815,870"/><path d="M470,1060 L500,1070 L640,1088 L870,1010 L945,910"/><path d="M640,1088 L660,1190 M870,1010 L895,1105"/><path d="M505,968 L500,1010 C560,1060 780,1030 880,960 L890,900"/><path d="M560,1200 C650,1232 850,1192 940,1110" stroke-width="20.854080000000003"/><path d="M555,1195 L560,1280 L600,1400 L640,1425 L685,1440"/><path d="M945,1100 L975,1150 L1005,1270 L990,1330 L960,1385"/><path d="M560,1280A217.7,43.5 -12.6 0 0 985,1185"/><path d="M568,1300A218.0,48.0 -3.9 0 0 1003,1270"/><path d="M598,1395A205.0,49.2 -12.7 0 0 998,1305"/><path d="M615,1415A185.8,44.6 -10.9 0 0 980,1345"/><path d="M690,1442A122.6,24.5 -11.8 0 0 930,1392" stroke-width="18.536960000000004"/><path d="M685,1440 L810,1850 M960,1385 L1035,1700 L1030,1790"/><path d="M697.0,1478A139.2,30.6 -8.9 0 0 972.0,1435"/><path d="M701.0,1491A138.8,30.5 -9.1 0 0 975.0,1447"/><path d="M711.5,1524A136.4,30.0 -9.5 0 0 980.5,1479"/><path d="M726.0,1570A133.6,29.4 -10.1 0 0 989.0,1523"/><path d="M730.0,1583A133.2,29.3 -10.4 0 0 992.0,1535"/><path d="M740.5,1616A130.8,28.8 -10.8 0 0 997.5,1567"/><path d="M755.0,1662A128.1,28.2 -11.5 0 0 1006.0,1611"/><path d="M759.0,1675A127.7,28.1 -11.7 0 0 1009.0,1623"/><path d="M769.5,1708A125.3,27.6 -12.2 0 0 1014.5,1655"/><path d="M784.0,1754A122.6,27.0 -13.0 0 0 1023.0,1699"/><path d="M788.0,1767A122.2,26.9 -13.2 0 0 1026.0,1711"/><path d="M798.5,1800A119.9,26.4 -13.7 0 0 1031.5,1743"/><path d="M815,1850 L832,1897 L878,1915 L968,1893 L968,1855 L940,1843 M905,1858 C888,1870 895,1893 925,1890 L945,1880 L940,1868 L915,1872 M858,1848 L880,1908"/></g></g>
<g transform="translate(900,2540) scale(0.27203)" stroke-width="9.56" ><path d="M555,311 L568,306 L538,235 L541,210 L602,201 L623,223 L650,294 L665,295 L661,280 L701,285 L743,294 L786,307 L786,307 L830,325 L873,348 L917,375 L917,375 L959,406 L1002,441 L1042,479 L1038,489 L1053,504 L1080,461 L1101,462 L1162,534 L1166,562 L1136,602 L1149,620 L1149,620 L1161,638 L1200,611 L1223,619 L1273,703 L1270,727 L1229,751 L1239,770 L1239,770 L1249,790 L1297,781 L1320,796 L1355,885 L1347,905 L1296,910 L1303,930 L1303,930 L1309,951 L1363,960 L1385,981 L1403,1069 L1389,1083 L1334,1069 L1336,1089 L1336,1089 L1338,1108 L1395,1136 L1413,1162 L1414,1243 L1395,1249 L1338,1218 L1337,1235 L1337,1235 L1334,1252 L1390,1296 L1404,1325 L1386,1393 L1365,1393 L1310,1345 L1304,1359 L1304,1359 L1298,1373 L1348,1430 L1357,1459 L1322,1511 L1299,1503 L1250,1443 L1241,1453 L1241,1453 L1231,1462 L1272,1529 L1275,1557 L1226,1588 L1203,1573 L1164,1505 L1151,1509 L1151,1509 L1138,1514 L1168,1585 L1165,1610 L1104,1619 L1083,1597 L1056,1526 L1041,1525 L1041,1525 L1026,1524 L1043,1596 L1034,1615 L966,1601 L947,1575 L934,1505 L918,1499 L918,1499 L902,1493 L904,1559 L890,1573 L819,1536 L805,1508 L807,1443 L791,1433 L791,1433 L775,1422 L762,1479 L744,1485 L676,1429 L667,1400 L683,1345 L668,1331 L668,1331 L653,1316 L626,1359 L605,1358 L544,1286 L540,1258 L570,1218 L557,1200 L557,1200 L545,1182 L506,1209 L483,1201 L433,1117 L436,1093 L477,1069 L467,1050 L467,1050 L457,1030 L409,1039 L386,1024 L351,935 L359,915 L410,910 L403,890 L403,890 L397,869 L343,860 L321,839 L303,751 L317,737 L372,751 L370,731 L370,731 L368,712 L311,684 L293,658 L292,577 L311,571 L368,602 L369,585 L369,585 L372,568 L316,524 L302,495 L320,427 L341,427 L396,475 L402,461 L402,461 L408,447 L358,390 L349,361 L384,309 L407,317 L456,377 L465,367 L465,367 L475,358 L434,291 L431,263 L480,232 L503,247 L542,315 L555,311 Z" stroke-linejoin="round" fill="#fff"/><path d="M1089,448 L1123,431 L1208,532 L1174,549 M1208,532 L1156,600"/><path d="M1213,603 L1247,586 L1316,702 L1282,719 M1316,702 L1249,748"/><path d="M1312,779 L1346,762 L1395,885 L1361,902 M1395,885 L1317,908"/><path d="M1380,964 L1414,947 L1440,1069 L1406,1086 M1440,1069 L1354,1067"/><path d="M1412,1145 L1446,1128 L1447,1241 L1413,1258 M1447,1241 L1359,1215"/><path d="M1406,1310 L1440,1293 L1415,1389 L1381,1406 M1415,1389 L1330,1343"/><path d="M697,269 L746,277 L797,291 L823,300 L875,324 L927,355 L953,372 L1004,411 L1054,456"/><ellipse cx="515" cy="600" rx="100" ry="52" transform="rotate(59.75 515 600)"/><path d="M493,512 C555,560 585,640 567,684"/><path d="M485,520 C537,560 570,640 555,688"/><ellipse cx="780" cy="510" rx="100" ry="52" transform="rotate(59.75 780 510)"/><path d="M758,422 C820,470 850,550 832,594"/><path d="M750,430 C802,470 835,550 820,598"/><ellipse cx="1100" cy="840" rx="100" ry="52" transform="rotate(59.75 1100 840)"/><path d="M1078,752 C1140,800 1170,880 1152,924"/><path d="M1070,760 C1122,800 1155,880 1140,928"/><ellipse cx="1150" cy="1260" rx="100" ry="52" transform="rotate(59.75 1150 1260)"/><path d="M1128,1172 C1190,1220 1220,1300 1202,1344"/><path d="M1120,1180 C1172,1220 1205,1300 1190,1348"/><ellipse cx="880" cy="1360" rx="100" ry="52" transform="rotate(59.75 880 1360)"/><path d="M858,1272 C920,1320 950,1400 932,1444"/><path d="M850,1280 C902,1320 935,1400 920,1448"/><ellipse cx="797" cy="952" rx="381.996" ry="230.85" transform="rotate(59.75 797 952)" fill="#fff"/><path d="M520,940 C490,960 490,1040 530,1090 C550,1105 580,1110 600,1100"/><ellipse cx="778" cy="965" rx="334.05" ry="201.875" transform="rotate(59.75 778 965)" stroke-width="21.026720000000005"/><ellipse cx="772" cy="968" rx="302.61" ry="182.875" transform="rotate(59.75 772 968)"/><ellipse cx="776" cy="966" rx="357.63" ry="216.125" transform="rotate(59.75 776 966)"/><ellipse cx="790" cy="955" rx="247.59" ry="149.625" transform="rotate(59.75 790 955)"/><ellipse cx="845" cy="890" rx="165" ry="55" transform="rotate(72 845 890)"/><path d="M735,720 L765,840 L740,860 L740,930 L770,975 M800,720 L815,800"/><path d="M0,1410 L810,945 M1320,655 L1640,470"/></g>
<g transform="translate(1280,3160) scale(0.82788)" stroke-width="3.14" ><path d="M372,385 C350,440 345,520 350,600 C355,680 380,750 420,795"/><path d="M400,400 C380,460 375,530 380,600 C385,670 410,740 460,800"/><path d="M432,840 C460,880 520,920 600,940 C700,960 800,970 900,990 C950,1003 1000,1003 1060,995 C1200,975 1350,920 1450,860 C1550,800 1620,720 1640,620 C1650,540 1600,460 1560,400 C1520,330 1480,240 1452,150"/><path d="M465,805 C500,850 560,875 640,890 C740,905 840,915 920,935 C960,945 1000,945 1060,935 C1180,915 1320,860 1420,800 C1510,740 1570,680 1585,620 C1590,560 1540,500 1500,440 C1460,370 1420,270 1398,190"/></g>
<g transform="translate(2300,3100) scale(0.17740)" stroke-width="14.66" ><path d="M520,950 L590,1200 C620,1250 700,1260 760,1210 C790,1140 830,1130 880,1130 C930,1110 960,1060 980,1030 C1010,1010 1060,1010 1100,990 C1140,960 1150,930 1145,900 L1115,750" fill="#fff"/><path d="M415,630 L895,315 L1035,450 L555,765 Z" fill="#fff"/><path d="M415,630 L495,920 L640,1055 L555,765" fill="#fff"/><path d="M555,765 L640,1055 L735,990 M1035,450 L1115,750 L1030,800 M850,1050 L990,965"/><path d="M735,905 L760,885 L800,925 L850,1110 L820,1130 L770,940 Z M735,905 L745,1050 L800,1120"/><path d="M955,770 L980,745 L1020,785 L1075,970 L1040,990 L990,800 Z"/><path d="M860,950 L910,920 L945,1010 L895,1040 Z" stroke-width="20.2932"/><path d="M520,950 L495,920"/><path d="M520,950 L560,1010 L530,1000 Z" fill="#000"/></g>
<g transform="translate(1500,3120) scale(0.35486)" stroke-width="7.33" ><path d="M125,850 L175,815 L150,840 L385,1090 L375,1130 Z M375,1130 L460,1075 M170,760 L265,695 L330,765 M170,760 L185,790 M240,755 L250,770 L320,780"/><path d="M180,800 C185,770 210,755 240,755 L320,768 L330,765 L630,590 L860,615 L880,640 L945,895 L630,1092 L460,1065 L400,1055 L380,1085 C330,1080 315,1050 320,1000 L320,940 C300,950 260,950 230,930 C190,900 170,850 180,800 Z" fill="#fff"/><path d="M330,765 L545,800 L560,815 L700,835 C740,850 765,900 770,950 C770,985 750,1010 720,1025 L620,1010 L610,1010 L630,1090"/><path d="M560,797 L878,640 M860,615 L880,640"/><path d="M580,830 L700,850 C730,870 750,910 752,950 C750,980 740,1000 720,1015"/><path d="M460,700 L640,600 L800,620 L805,635 L620,735 L470,715 Z M480,710 L650,612 L790,630"/><path d="M460,700 L640,598" stroke-width="12.681000000000001"/><path d="M582,650 L585,685 C600,705 660,700 675,675 L678,648" fill="#fff"/><ellipse cx="630" cy="650" rx="48" ry="22" transform="rotate(-5 630 650)" fill="#fff"/><ellipse cx="240" cy="868" rx="52" ry="62" transform="rotate(-20 240 868)"/><ellipse cx="244" cy="866" rx="46" ry="56" transform="rotate(-20 244 866)"/><ellipse cx="236" cy="872" rx="33" ry="43" transform="rotate(-20 236 872)"/><ellipse cx="660" cy="935" rx="52" ry="62" transform="rotate(-20 660 935)"/><ellipse cx="664" cy="933" rx="46" ry="56" transform="rotate(-20 664 933)"/><ellipse cx="656" cy="939" rx="33" ry="43" transform="rotate(-20 656 939)"/><path d="M350,815 L365,800 L500,820 L525,895 L490,910 L470,840 L360,825 Z M470,840 L500,820 M445,860 L465,865 L470,885 L450,880 Z"/><path d="M405,835 C360,860 330,920 320,1000 C315,1050 330,1080 380,1085 C390,1060 395,1050 400,1050 L420,1075 L460,1068" fill="#fff"/><path d="M440,890 C400,930 385,990 385,1040 M405,835 C425,840 440,860 440,885"/><ellipse cx="1270" cy="582" rx="72" ry="98" transform="rotate(-25 1270 582)"/><ellipse cx="1262" cy="585" rx="72" ry="98" transform="rotate(-25 1262 585)" fill="#fff"/><path d="M1280,490 L1310,485 C1350,510 1370,560 1372,605 L1340,625 M1300,520 L1335,548"/><path d="M1095,637 L1240,555 C1270,560 1285,600 1270,640 L1135,715" fill="#fff"/><ellipse cx="1115" cy="677" rx="30" ry="44" transform="rotate(-25 1115 677)" fill="#fff"/><path d="M1133,617 C1165,623 1185,673 1168,698"/><path d="M1163,600 C1195,606 1215,656 1198,681"/><path d="M1193,583 C1225,589 1245,639 1228,664"/><path d="M1223,566 C1255,572 1275,622 1258,647"/><ellipse cx="1255" cy="597" rx="25" ry="45" transform="rotate(-25 1255 597)"/><path d="M775,870 L1115,678"/><path d="M515,320 L515,650 M1232,160 L1232,490" stroke-width="8.454"/></g>
<g transform="translate(1300,3680) scale(0.23655)" stroke-width="10.99" ><path d="M140,605 C90,660 80,760 120,850 C160,930 240,970 330,965"/><path d="M540,225 C400,225 250,330 170,480 C140,560 140,640 150,700 C170,800 250,900 330,965 L480,1215 C490,1235 510,1235 530,1225 L680,1135 C695,1125 695,1105 685,1085 L625,990" fill="#fff"/><ellipse cx="612" cy="615" rx="316" ry="392" transform="rotate(-6 612 615)" fill="#fff"/><ellipse cx="612" cy="575" rx="232" ry="262" transform="rotate(-6 612 575)"/><ellipse cx="622" cy="580" rx="228" ry="258" transform="rotate(-6 622 580)"/><path d="M385,500 C440,480 520,500 570,570 C610,640 620,720 560,805"/><path d="M420,655 L760,455 M445,700 L790,510"/><path d="M750,450 L790,425 L830,480 L790,510 Z M775,435 L815,495" fill="#fff"/><path d="M815,420 L910,355 C960,280 1000,220 1050,195 C1090,180 1130,200 1155,225 L1160,240 L1100,255 C1060,240 1030,260 1010,300 C995,340 1010,370 1040,380 C1070,375 1090,350 1105,320 L1140,305 L1155,315 C1140,370 1110,410 1060,435 C1020,440 980,430 950,425 L850,460"/><path d="M955,350 C990,320 1010,290 1050,260 L1085,245 M960,370 L1000,360"/><path d="M740,915 C850,850 1000,720 1130,640 C1220,590 1300,570 1380,580 C1440,585 1490,600 1520,625"/><path d="M640,1150 C655,1200 720,1215 790,1160 C870,1090 940,1010 1000,950 C1080,870 1140,810 1200,760 C1250,725 1300,705 1330,700 L1430,690"/><path d="M555,1215 C590,1290 650,1320 700,1310 C750,1300 790,1280 830,1250 C900,1190 950,1130 1000,1070 C1080,970 1140,900 1200,830 C1250,780 1300,740 1340,720"/><path d="M1520,625 L1595,615 L1700,705 M1520,625 C1470,650 1440,690 1435,740 L1440,760 C1500,830 1600,930 1700,980"/></g>
<g transform="translate(1240,2420) scale(0.29568)" stroke-width="8.79" ><ellipse cx="358" cy="832" rx="296" ry="179" transform="rotate(60 358 832)"/><ellipse cx="350" cy="835" rx="296" ry="179" transform="rotate(60 350 835)" fill="#fff"/><ellipse cx="346" cy="838" rx="90" ry="54" transform="rotate(60 346 838)"/><ellipse cx="352" cy="836" rx="90" ry="54" transform="rotate(60 352 836)"/><path d="M65,1005 L350,843 M550,722 L868,540"/><path d="M245,170 L245,565"/><ellipse cx="1228" cy="334" rx="276" ry="167" transform="rotate(60 1228 334)"/><ellipse cx="1215" cy="340" rx="276" ry="167" transform="rotate(60 1215 340)" fill="#fff"/><path d="M1240,125 L1285,100 C1340,110 1400,170 1430,230 C1455,290 1465,350 1455,400 L1410,440 M1375,265 L1420,235"/><path d="M1285,100 C1350,120 1420,190 1450,290" stroke-width="13.189800000000002"/><path d="M830,470 L1175,268 C1230,265 1275,330 1258,402 L905,615" fill="#fff"/><ellipse cx="867" cy="545" rx="86" ry="55" transform="rotate(60 867 545)" fill="#fff"/><path d="M894,441 C946,453 981,533 955,588"/><path d="M940,414 C992,426 1027,506 1001,561"/><path d="M986,387 C1038,399 1073,479 1047,534"/><path d="M1032,360 C1084,372 1119,452 1093,507"/><path d="M1078,333 C1130,345 1165,425 1139,480"/><path d="M1124,306 C1176,318 1211,398 1185,453"/><path d="M1170,279 C1222,291 1257,371 1231,426"/><path d="M1125,0 L1125,85"/></g>
</svg></body></html>
